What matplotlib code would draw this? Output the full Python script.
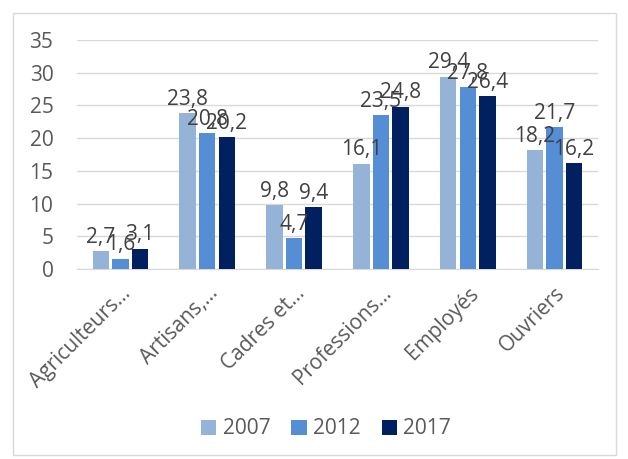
import matplotlib
matplotlib.use("Agg")
import matplotlib.pyplot as plt
import numpy as np
from matplotlib.patches import Rectangle

categories = ["Agriculteurs…", "Artisans,…", "Cadres et…", "Professions…", "Employés", "Ouvriers"]
years = ["2007", "2012", "2017"]
v2007 = [2.7, 23.8, 9.8, 16.1, 29.4, 18.2]
v2012 = [1.6, 20.8, 4.7, 23.5, 27.8, 21.7]
v2017 = [3.1, 20.2, 9.4, 24.8, 26.4, 16.2]
labels2007 = ["2,7", "23,8", "9,8", "16,1", "29,4", "18,2"]
labels2012 = ["1,6", "20,8", "4,7", "23,5", "27,8", "21,7"]
labels2017 = ["3,1", "20,2", "9,4", "24,8", "26,4", "16,2"]
colors = ["#95B3D7", "#558ED5", "#002060"]

plt.rcParams['font.family'] = ['Open Sans', 'DejaVu Sans']
fig = plt.figure(figsize=(6.28, 4.59), dpi=100)
ax = fig.add_axes([77/628, 1 - 269/459, (598-77)/628, (269-40)/459])

x = np.arange(len(categories))
w = 0.19
off = 0.225
series = [v2007, v2012, v2017]
labs = [labels2007, labels2012, labels2017]
for i, (vals, lab) in enumerate(zip(series, labs)):
    bars = ax.bar(x + (i - 1) * off, vals, width=w, color=colors[i], label=years[i], zorder=3)
    for b, t in zip(bars, lab):
        ax.text(b.get_x() + b.get_width() / 2, b.get_height() + 0.5, t,
                ha='center', va='bottom', fontsize=15, color='#404040', zorder=4)

ax.set_xlim(-0.5, len(categories) - 0.5)
ax.set_ylim(0, 35)
ax.set_yticks(range(0, 36, 5))
ax.yaxis.grid(True, color='#D9D9D9', linewidth=1, zorder=0)
for s in ['top', 'right', 'left']:
    ax.spines[s].set_visible(False)
ax.spines['bottom'].set_color('#D9D9D9')
ax.tick_params(axis='both', length=0, labelsize=15, colors='#595959')
ax.tick_params(axis='y', pad=17)
ax.tick_params(axis='x', pad=10)
ax.set_xticks(x)
ax.set_xticklabels(categories, rotation=45, ha='right', rotation_mode='anchor')

fig.legend(loc='center', bbox_to_anchor=(326/628, 1 - 429/459), ncol=3, frameon=False,
           fontsize=15, handlelength=0.75, handleheight=0.75, columnspacing=1.0,
           handletextpad=0.3, labelcolor='#595959')

fig.patches.append(Rectangle((13/628, 1 - 455/459), (616-13)/628, (455-13)/459,
                             transform=fig.transFigure, fill=False, edgecolor='#D9D9D9', linewidth=1))
fig.savefig("out.png", dpi=100)
